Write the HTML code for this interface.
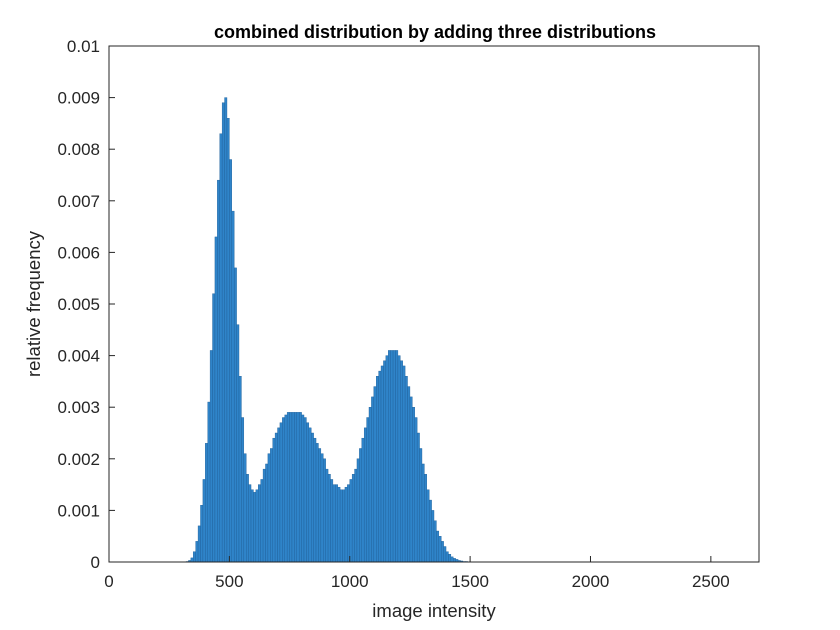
<!DOCTYPE html>
<html><head><meta charset="utf-8"><style>
body{margin:0;background:#fff;}
svg{display:block;font-family:"Liberation Sans",Arial,sans-serif;}
</style></head><body>
<svg id="chart" width="840" height="630">
<rect x="0" y="0" width="840" height="630" fill="#fff"/>
<text x="435" y="38" text-anchor="middle" font-size="18" font-weight="bold" fill="#000">combined distribution by adding three distributions</text>
<g id="bars"></g>
<rect x="109" y="46" width="650" height="516" fill="none" stroke="#262626" stroke-width="1"/>
<g id="xticks"></g>
<g id="yticks"></g>
<text x="434" y="617" text-anchor="middle" font-size="18.5" fill="#262626">image intensity</text>
<text transform="translate(40,304) rotate(-90)" text-anchor="middle" font-size="18.5" fill="#262626">relative frequency</text>
</svg>
<script>
const binStart = 320;
const binWidth = 10;
const freqs = [0.00001,0.00003,0.00008,0.0002,0.0004,0.0007,0.0011,0.0016,
0.0023,0.0031,0.0041,0.0052,0.0063,0.0074,0.0083,0.0089,
0.0090,0.0086,0.0078,0.0068,0.0057,0.0046,0.0036,0.0028,
0.0021,0.0017,0.0015,0.0014,0.00135,0.0014,0.0015,0.0016,
0.0018,0.0019,0.0021,0.0022,0.0024,0.0025,0.0026,0.0027,
0.0028,0.00285,0.0029,0.0029,0.0029,0.0029,0.0029,0.0029,
0.00285,0.0028,0.0027,0.0026,0.0025,0.0024,0.0023,0.0022,
0.0021,0.0020,0.0018,0.0017,0.0016,0.0015,0.0015,0.00145,
0.0014,0.0014,0.00145,0.0015,0.0016,0.0017,0.0018,0.0020,
0.0022,0.0024,0.0026,0.0028,0.0030,0.0032,0.0034,0.0036,
0.0037,0.0038,0.0039,0.0040,0.0041,0.0041,0.0041,0.0041,
0.0040,0.0039,0.0038,0.0036,0.0034,0.0032,0.0030,0.0028,
0.0025,0.0022,0.0019,0.0017,0.0014,0.0012,0.0010,0.0008,
0.0006,0.0005,0.0004,0.0003,0.0002,0.00015,0.0001,0.00007,
0.00005,0.00003,0.00002,0.00001,0.00001,0.000005];
const xTicks = [0,500,1000,1500,2000,2500];
const yTicks = [0,0.001,0.002,0.003,0.004,0.005,0.006,0.007,0.008,0.009,0.01];
const yTickLabels = ["0","0.001","0.002","0.003","0.004","0.005","0.006","0.007","0.008","0.009","0.01"];
const xMax = 2700, yMax = 0.01;
const L=109,R=759,T=46,B=562;
const sx=v=>L+v/xMax*(R-L);
const sy=v=>B-v/yMax*(B-T);
const NS="http://www.w3.org/2000/svg";
const bars=document.getElementById('bars');
freqs.forEach((f,i)=>{
  const x0=sx(binStart+i*binWidth), x1=sx(binStart+(i+1)*binWidth);
  const r=document.createElementNS(NS,'rect');
  r.setAttribute('x',x0);r.setAttribute('width',x1-x0);
  r.setAttribute('y',sy(f));r.setAttribute('height',B-sy(f));
  r.setAttribute('fill','#2f84c9');r.setAttribute('stroke','#1d5e98');r.setAttribute('stroke-width','0.4');
  
  
  bars.appendChild(r);
});
const xt=document.getElementById('xticks');
xTicks.forEach(v=>{
  const x=sx(v);
  const l=document.createElementNS(NS,'line');
  l.setAttribute('x1',x);l.setAttribute('x2',x);l.setAttribute('y1',B);l.setAttribute('y2',B-6);l.setAttribute('stroke','#262626');
  
  
  xt.appendChild(l);
  const t=document.createElementNS(NS,'text');
  t.setAttribute('x',x);t.setAttribute('y',B+25);t.setAttribute('text-anchor','middle');t.setAttribute('font-size','17');t.setAttribute('fill','#262626');
  t.textContent=v;
  
  
  xt.appendChild(t);
});
const yt=document.getElementById('yticks');
yTicks.forEach((v,i)=>{
  const y=sy(v);
  const l=document.createElementNS(NS,'line');
  l.setAttribute('x1',L);l.setAttribute('x2',L+6);l.setAttribute('y1',y);l.setAttribute('y2',y);l.setAttribute('stroke','#262626');
  
  
  yt.appendChild(l);
  const t=document.createElementNS(NS,'text');
  t.setAttribute('x',L-9);t.setAttribute('y',y+6);t.setAttribute('text-anchor','end');t.setAttribute('font-size','17');t.setAttribute('fill','#262626');
  t.textContent=yTickLabels[i];
  
  
  yt.appendChild(t);
});
</script>
</body></html>
